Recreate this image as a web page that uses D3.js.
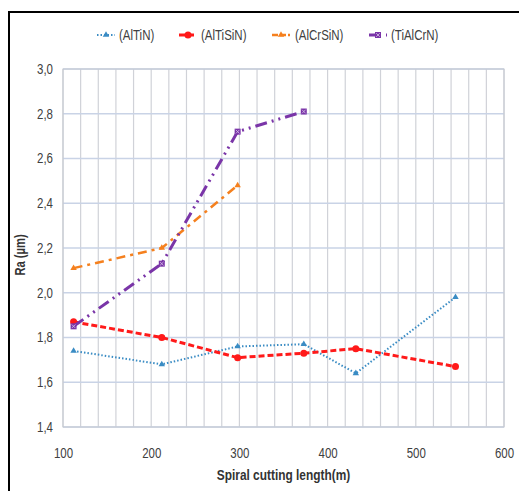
<!DOCTYPE html>
<html>
<head>
<meta charset="utf-8">
<script src="https://cdn.jsdelivr.net/npm/d3@7"></script>
<style>
  body { margin: 0; background: #fff; }
  svg text { font-family: "Liberation Sans", Arial, sans-serif; }
</style>
</head>
<body>
<svg id="chart" width="519" height="491"></svg>
<script>
// data
const seriesNames = ['(AlTiN)', '(AlTiSiN)', '(AlCrSiN)', '(TiAlCrN)'];
const lengthAlTiN = [112, 212, 298, 373, 432, 545];
const raAlTiN = [1.74, 1.68, 1.76, 1.77, 1.64, 1.98];
const lengthAlTiSiN = [112, 212, 298, 373, 432, 545];
const raAlTiSiN = [1.87, 1.80, 1.71, 1.73, 1.75, 1.67];
const lengthAlCrSiN = [112, 212, 298];
const raAlCrSiN = [2.11, 2.20, 2.48];
const lengthTiAlCrN = [112, 212, 298, 373];
const raTiAlCrN = [1.85, 2.13, 2.72, 2.81];
const xTicks = [100, 200, 300, 400, 500, 600];
const yTicks = [1.4, 1.6, 1.8, 2.0, 2.2, 2.4, 2.6, 2.8, 3.0];

const svg = d3.select('#chart');
const margin = {left: 63, top: 69, right: 15, bottom: 64};
const width = 519 - margin.left - margin.right;
const height = 491 - margin.top - margin.bottom;
const narrow = 0.82; // the original font is a condensed one

// outer frame (only top and left are visible in the crop)
svg.append('path')
    .attr('d', 'M9,491 V12 H519')
    .attr('fill', 'none')
    .attr('stroke', '#000')
    .attr('stroke-width', 2);

const g = svg.append('g').attr('transform', `translate(${margin.left},${margin.top})`);

const x = d3.scaleLinear().domain([100, 600]).range([0, width]);
const y = d3.scaleLinear().domain([1.4, 3.0]).range([height, 0]);

// vertical grid every 20
g.append('g')
    .selectAll('line')
    .data(d3.range(100, 601, 20))
    .join('line')
    .attr('x1', (d) => x(d)).attr('x2', (d) => x(d))
    .attr('y1', 0).attr('y2', height)
    .attr('stroke', '#d0d2d8')
    .attr('stroke-width', 1.2);

// horizontal grid
g.append('g')
    .selectAll('line')
    .data(yTicks)
    .join('line')
    .attr('x1', 0).attr('x2', width)
    .attr('y1', (d) => y(d)).attr('y2', (d) => y(d))
    .attr('stroke', '#c9d3e6')
    .attr('stroke-width', 1.5);

g.append('rect')
    .attr('width', width).attr('height', height)
    .attr('fill', 'none')
    .attr('stroke', '#c4c8d0');

// axes
const xAxis = g.append('g')
    .attr('transform', `translate(0,${height})`)
    .call(d3.axisBottom(x).tickValues(xTicks).tickSize(0).tickPadding(21).tickFormat(d3.format('d')));
const yAxis = g.append('g')
    .call(d3.axisLeft(y).tickValues(yTicks).tickSize(0).tickPadding(10)
        .tickFormat((d) => d3.format('.1f')(d).replace('.', ',')));
[xAxis, yAxis].forEach((a) => {
    a.select('.domain').remove();
    a.selectAll('text').attr('font-size', 14).attr('fill', '#404040');
});
// squeeze tick labels horizontally around their anchor
xAxis.selectAll('.tick text').attr('transform', `scale(${narrow},1)`);
yAxis.selectAll('.tick text').attr('transform', `scale(${narrow},1)`).attr('x', -10 / narrow);

svg.append('text')
    .attr('transform', `translate(${margin.left + width / 2},480) scale(0.85,1)`)
    .attr('text-anchor', 'middle')
    .attr('font-size', 14).attr('font-weight', 'bold').attr('fill', '#333')
    .text('Spiral cutting length(m)');

svg.append('text')
    .attr('transform', 'translate(25,255) rotate(-90) scale(0.8,1)')
    .attr('text-anchor', 'middle')
    .attr('font-size', 14).attr('font-weight', 'bold').attr('fill', '#333')
    .text('Ra (µm)');

// series
const series = [
    {name: seriesNames[0], xs: lengthAlTiN, ys: raAlTiN, color: '#3a8cc4', width: 2, dash: '1.5,2', marker: 'triangle'},
    {name: seriesNames[1], xs: lengthAlTiSiN, ys: raAlTiSiN, color: '#ff1a1a', width: 3, dash: '6,3', marker: 'circle'},
    {name: seriesNames[2], xs: lengthAlCrSiN, ys: raAlCrSiN, color: '#f5801e', width: 2.5, dash: '9,5,3,5', marker: 'triangle'},
    {name: seriesNames[3], xs: lengthTiAlCrN, ys: raTiAlCrN, color: '#7a35a8', width: 3, dash: '12,5,2,5,2,5', marker: 'square'}
];

const line = d3.line().x((d) => x(d[0])).y((d) => y(d[1]));

const drawMarker = (sel, s, px, py) => {
    if (s.marker === 'circle') {
        sel.append('circle').attr('cx', px).attr('cy', py).attr('r', 3.5).attr('fill', s.color);
    } else if (s.marker === 'triangle') {
        sel.append('path')
            .attr('d', d3.symbol(d3.symbolTriangle, 18)())
            .attr('transform', `translate(${px},${py})`)
            .attr('fill', s.color);
    } else {
        sel.append('rect').attr('x', px - 3).attr('y', py - 3).attr('width', 6).attr('height', 6)
            .attr('fill', s.color);
        sel.append('path')
            .attr('d', `M${px - 1.8},${py - 1.8}L${px + 1.8},${py + 1.8}M${px + 1.8},${py - 1.8}L${px - 1.8},${py + 1.8}`)
            .attr('stroke', '#d8c4e8').attr('stroke-width', 0.8);
    }
};

series.forEach((s) => {
    const pts = s.xs.map((v, i) => [v, s.ys[i]]);
    const sg = g.append('g');
    sg.append('path')
        .attr('d', line(pts))
        .attr('fill', 'none')
        .attr('stroke', s.color)
        .attr('stroke-width', s.width)
        .attr('stroke-dasharray', s.dash);
    pts.forEach((p) => drawMarker(sg, s, x(p[0]), y(p[1])));
});

// legend
const legendX = [97, 179, 272, 369];
const legend = svg.append('g');
series.forEach((s, i) => {
    const lx = legendX[i];
    const ly = 35;
    legend.append('line')
        .attr('x1', lx).attr('x2', lx + 18)
        .attr('y1', ly).attr('y2', ly)
        .attr('stroke', s.color).attr('stroke-width', s.width)
        .attr('stroke-dasharray', i === 2 ? '6,2' : s.dash);
    drawMarker(legend, s, lx + 9, ly);
    legend.append('text')
        .attr('transform', `translate(${lx + (i === 2 ? 23 : 22)},${ly + 5}) scale(${narrow},1)`)
        .attr('font-size', 14).attr('fill', '#404040')
        .text(s.name);
});
</script>
</body>
</html>
